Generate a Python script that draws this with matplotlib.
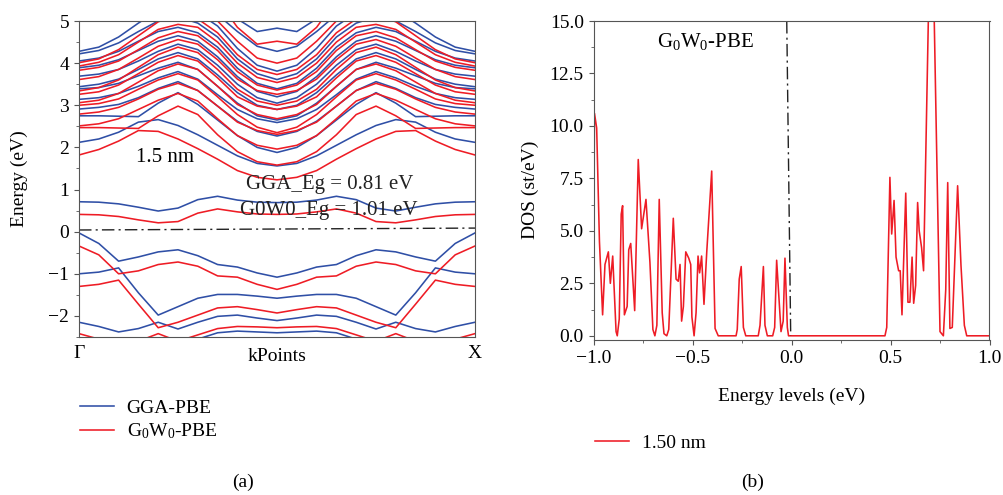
import numpy as np
import matplotlib
matplotlib.use('Agg')
import matplotlib.pyplot as plt
from matplotlib.lines import Line2D

plt.rcParams['font.family'] = 'Liberation Serif'
plt.rcParams['mathtext.fontset'] = 'custom'
plt.rcParams['mathtext.rm'] = 'Liberation Serif'
plt.rcParams['mathtext.it'] = 'Liberation Serif'

BLUE = '#2f4fa6'
RED = '#ee1c25'

# half of the Gamma -> X path (picture is symmetric about the middle)
k_half = [0.0, 0.05, 0.10, 0.15, 0.20, 0.25, 0.30, 0.35, 0.40, 0.45, 0.50]

# GGA-PBE bands (eV)
gga_bands = [
    [-2.60, -2.60, -2.70, -2.70, -2.60, -2.60, -2.55, -2.40, -2.36, -2.38, -2.40],
    [-2.15, -2.25, -2.38, -2.30, -2.15, -2.31, -2.15, -2.01, -1.98, -2.05, -2.11],
    [-1.00, -0.96, -0.86, -1.45, -1.98, -1.78, -1.58, -1.49, -1.49, -1.53, -1.58],
    [-0.03, -0.28, -0.70, -0.60, -0.48, -0.43, -0.57, -0.78, -0.84, -0.98, -1.08],
    [0.71, 0.70, 0.66, 0.58, 0.49, 0.56, 0.76, 0.84, 0.75, 0.70, 0.69],
    [2.12, 2.20, 2.36, 2.60, 2.66, 2.52, 2.30, 2.05, 1.80, 1.62, 1.56],
    [2.75, 2.75, 2.74, 2.73, 3.05, 3.30, 3.02, 2.65, 2.28, 2.00, 1.88],
    [2.91, 2.95, 3.02, 3.18, 3.40, 3.56, 3.35, 2.98, 2.62, 2.38, 2.27],
    [3.14, 3.18, 3.28, 3.45, 3.65, 3.80, 3.62, 3.25, 2.90, 2.68, 2.59],
    [3.39, 3.42, 3.52, 3.70, 3.88, 4.02, 3.85, 3.45, 3.05, 2.75, 2.65],
    [3.44, 3.50, 3.62, 3.85, 4.10, 4.25, 4.10, 3.72, 3.30, 3.00, 2.90],
    [3.69, 3.74, 3.85, 4.05, 4.28, 4.45, 4.32, 3.95, 3.50, 3.18, 3.05],
    [3.89, 3.95, 4.08, 4.30, 4.52, 4.65, 4.52, 4.15, 3.68, 3.33, 3.20],
    [4.05, 4.12, 4.28, 4.52, 4.75, 4.85, 4.72, 4.38, 3.88, 3.52, 3.39],
    [4.22, 4.30, 4.48, 4.75, 5.00, 5.10, 4.95, 4.62, 4.10, 3.75, 3.61],
    [4.28, 4.38, 4.62, 4.95, 5.25, 5.30, 5.20, 4.88, 4.35, 3.95, 3.81],
    [5.50, 5.50, 5.50, 5.50, 5.50, 5.50, 5.40, 5.15, 4.75, 4.40, 4.28],
    [5.80, 5.80, 5.80, 5.80, 5.80, 5.80, 5.80, 5.60, 5.05, 4.75, 4.83],
]

# G0W0-PBE bands (eV)
gw_bands = [
    [-2.42, -2.55, -2.70, -2.60, -2.42, -2.60, -2.45, -2.30, -2.25, -2.26, -2.28],
    [-1.30, -1.25, -1.15, -1.72, -2.28, -2.15, -1.98, -1.81, -1.78, -1.85, -1.93],
    [-0.34, -0.55, -1.00, -0.93, -0.78, -0.72, -0.82, -1.05, -1.08, -1.25, -1.37],
    [0.41, 0.40, 0.36, 0.28, 0.21, 0.24, 0.44, 0.54, 0.47, 0.42, 0.41],
    [1.82, 1.95, 2.15, 2.40, 2.38, 2.20, 1.97, 1.72, 1.45, 1.29, 1.23],
    [2.47, 2.47, 2.46, 2.45, 2.75, 2.98, 2.78, 2.30, 1.90, 1.66, 1.58],
    [2.51, 2.56, 2.68, 2.90, 3.12, 3.28, 3.10, 2.68, 2.28, 2.05, 1.96],
    [2.79, 2.84, 2.95, 3.15, 3.38, 3.52, 3.35, 2.98, 2.60, 2.40, 2.31],
    [3.00, 3.04, 3.15, 3.38, 3.60, 3.75, 3.60, 3.20, 2.78, 2.48, 2.35],
    [3.06, 3.12, 3.28, 3.55, 3.82, 3.98, 3.85, 3.45, 3.02, 2.78, 2.68],
    [3.26, 3.32, 3.48, 3.75, 4.02, 4.18, 4.05, 3.65, 3.20, 2.98, 2.90],
    [3.34, 3.42, 3.60, 3.90, 4.20, 4.38, 4.25, 3.85, 3.38, 3.10, 3.00],
    [3.61, 3.68, 3.85, 4.12, 4.40, 4.56, 4.45, 4.08, 3.62, 3.35, 3.26],
    [3.83, 3.90, 4.05, 4.32, 4.60, 4.75, 4.65, 4.30, 3.80, 3.48, 3.36],
    [3.93, 4.02, 4.20, 4.50, 4.80, 4.92, 4.85, 4.50, 4.00, 3.66, 3.54],
    [4.01, 4.10, 4.32, 4.65, 4.98, 5.15, 5.05, 4.72, 4.20, 3.85, 3.73],
    [5.40, 5.40, 5.40, 5.40, 5.40, 5.40, 5.30, 5.00, 4.52, 4.12, 4.00],
    [5.70, 5.70, 5.70, 5.70, 5.70, 5.70, 5.70, 5.50, 4.85, 4.45, 4.52],
]

# DOS of the 1.50 nm case (G0W0-PBE)
dos_e = [-1.0, -0.995, -0.984, -0.97, -0.954, -0.942, -0.925, -0.915, -0.903, -0.886,
         -0.88, -0.87, -0.86, -0.853, -0.844, -0.83, -0.822, -0.812, -0.792, -0.774,
         -0.757, -0.735, -0.715, -0.70, -0.69, -0.68, -0.668, -0.653, -0.644, -0.63,
         -0.62, -0.597, -0.583, -0.572, -0.563, -0.555, -0.546, -0.534, -0.519, -0.509,
         -0.503, -0.492, -0.482, -0.472, -0.464, -0.454, -0.442, -0.428, -0.403, -0.386,
         -0.37, -0.28, -0.274, -0.264, -0.254, -0.243, -0.231, -0.168, -0.159, -0.142,
         -0.134, -0.122, -0.095, -0.085, -0.075, -0.053, -0.042, -0.033, -0.021, -0.015,
         0.472, 0.481, 0.497, 0.506, 0.518, 0.528, 0.541, 0.549, 0.558, 0.577,
         0.588, 0.598, 0.609, 0.617, 0.627, 0.637, 0.645, 0.657, 0.667, 0.691,
         0.705, 0.721, 0.75, 0.767, 0.779, 0.789, 0.80, 0.812, 0.839, 0.856,
         0.873, 0.885, 1.0]
dos = [3.9, 10.6, 9.9, 4.5, 1.0, 3.4, 4.0, 2.5, 3.8, 0.2,
       0.0, 0.8, 5.8, 6.2, 1.0, 1.4, 4.1, 4.4, 1.2, 8.4,
       5.1, 6.5, 3.5, 0.3, 0.0, 0.5, 6.5, 1.1, 0.1, 0.0,
       0.3, 5.6, 2.7, 2.6, 3.4, 0.7, 1.4, 4.0, 3.7, 3.4,
       0.9, 0.0, 1.1, 3.8, 3.0, 3.8, 1.5, 4.0, 7.85, 0.35,
       0.0, 0.0, 0.3, 2.7, 3.3, 0.4, 0.0, 0.0, 0.5, 3.3,
       0.5, 0.0, 0.0, 0.4, 3.6, 0.2, 0.7, 3.7, 0.4, 0.0,
       0.0, 0.4, 7.55, 4.85, 6.45, 3.75, 3.1, 3.1, 1.0, 6.8,
       1.6, 1.6, 3.75, 1.55, 2.4, 6.35, 5.0, 4.2, 3.1, 15.0,
       21.0, 15.0, 0.2, 0.0, 2.2, 7.3, 0.35, 0.4, 7.15, 3.35,
       0.5, 0.0, 0.0]

k_full = np.concatenate([k_half, 1.0 - np.array(k_half[-2::-1])])


def full(b):
    return np.concatenate([b, b[-2::-1]])


fig = plt.figure(figsize=(10.04, 4.95), dpi=100)
ax1 = fig.add_axes([79/1004, 1-337/495, 396/1004, 316/495])
ax2 = fig.add_axes([593.5/1004, 1-340/495, 396/1004, 319/495])

FS = 14
spine_c = '#555555'
txt_c = '#222222'

# (a) band structure
for b in gga_bands:
    ax1.plot(k_full, full(b), color=BLUE, lw=1.15)
for b in gw_bands:
    ax1.plot(k_full, full(b), color=RED, lw=1.15)
ax1.plot([0, 1], [0.04, 0.085], color=txt_c, lw=1.0, ls=(0, (9, 3, 1.5, 3)))
ax1.set_xlim(0, 1)
ax1.set_ylim(-2.5, 5)
ax1.set_yticks(range(-2, 6))
ax1.set_yticks(np.arange(-2.5, 5.01, 0.5), minor=True)
ax1.set_xticks([0, 1])
ax1.set_xticklabels(['Γ', 'X'])
ax1.tick_params(axis='x', length=0, labelsize=FS, pad=6)
ax1.tick_params(axis='y', which='both', direction='out', labelsize=FS, color=spine_c)
ax1.tick_params(axis='y', which='minor', length=2.5)
ax1.text(0.5, -0.063, 'kPoints', transform=ax1.transAxes, ha='center', va='center', fontsize=FS)
ax1.set_ylabel('Energy (eV)', fontsize=FS)
ax1.yaxis.set_label_coords(-0.128, 0.5)
ax1.text(0.144, 1.756, '1.5 nm', fontsize=15, va='center')
ax1.text(0.422, 1.118, 'GGA_Eg = 0.81 eV', fontsize=15, va='center', color=txt_c)
ax1.text(0.407, 0.504, 'G0W0_Eg = 1.01 eV', fontsize=15, va='center', color=txt_c)
for s in ax1.spines.values():
    s.set_color(spine_c)

# (b) DOS
ax2.plot(dos_e, dos, color=RED, lw=1.15)
ax2.plot([-0.024, -0.004], [15, 0], color=txt_c, lw=1.0, ls=(0, (9, 3, 1.5, 3)))
ax2.set_xlim(-1, 1)
ax2.set_ylim(-0.2, 15)
ax2.set_xticks([-1, -0.5, 0, 0.5, 1])
ax2.set_xticklabels(['−1.0', '−0.5', '0.0', '0.5', '1.0'])
ax2.set_xticks(np.arange(-1, 1.01, 0.25), minor=True)
ax2.set_yticks(np.arange(0, 15.01, 2.5))
ax2.set_yticklabels(['%.1f' % v for v in np.arange(0, 15.01, 2.5)])
ax2.set_yticks(np.arange(0, 15.01, 1.25), minor=True)
ax2.tick_params(which='both', direction='out', labelsize=FS, color=spine_c)
ax2.tick_params(which='minor', length=2.5)
ax2.set_ylabel('DOS (st/eV)', fontsize=FS)
ax2.yaxis.set_label_coords(-0.138, 0.47)
ax2.set_xlabel('Energy levels (eV)', fontsize=FS)
ax2.xaxis.set_label_coords(0.5, -0.150)
ax2.text(-0.679, 14.0, r'G$_0$W$_0$-PBE', fontsize=15, va='center')
for s in ax2.spines.values():
    s.set_color(spine_c)

# legends below the panels
h1 = [Line2D([], [], color=BLUE, lw=1.15), Line2D([], [], color=RED, lw=1.15)]
fig.legend(h1, ['GGA-PBE', r'G$_0$W$_0$-PBE'], loc='upper left',
           bbox_to_anchor=(80/1004, 1-399/495), frameon=False, fontsize=FS,
           handlelength=1.75, handletextpad=0.65, labelspacing=0.25,
           borderpad=0, borderaxespad=0)
h2 = [Line2D([], [], color=RED, lw=1.15)]
fig.legend(h2, ['1.50 nm'], loc='upper left', bbox_to_anchor=(595/1004, 1-434/495),
           frameon=False, fontsize=FS, handlelength=1.75, handletextpad=0.65,
           borderpad=0, borderaxespad=0)

fig.text(243/1004, 1-482/495, '(a)', ha='center', va='center', fontsize=FS)
fig.text(753/1004, 1-482/495, '(b)', ha='center', va='center', fontsize=FS)

fig.savefig('out.png', dpi=100)
